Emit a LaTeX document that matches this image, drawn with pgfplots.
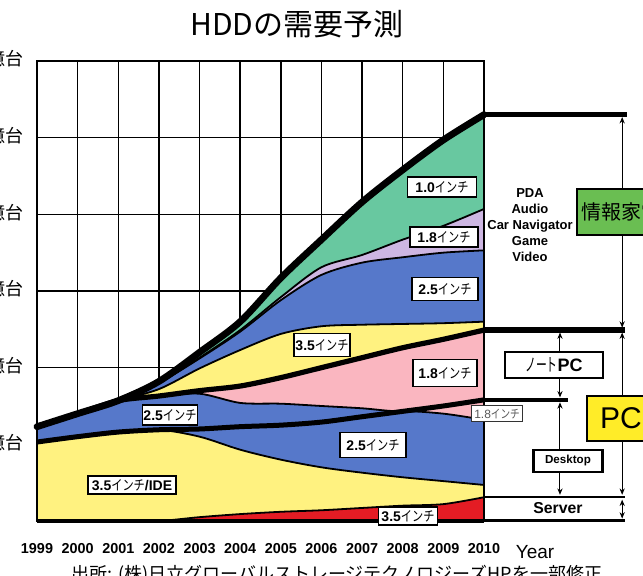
\documentclass[border=0pt]{standalone}
\usepackage{fontspec}
\setmainfont{Liberation Sans}
\newfontfamily\jp{Noto Sans CJK JP}
\usepackage{graphicx}
\usepackage{pgfplots}
\pgfplotsset{compat=1.18}
\usepackage{pgfplotstable}
\usetikzlibrary{arrows.meta}

\definecolor{cGreen}{RGB}{104,200,160}
\definecolor{cPurple}{RGB}{205,182,226}
\definecolor{cBlue}{RGB}{86,120,202}
\definecolor{cPink}{RGB}{250,182,192}
\definecolor{cYellow}{RGB}{255,242,128}
\definecolor{cRed}{RGB}{228,28,36}
\definecolor{boxGreen}{RGB}{106,190,82}
\definecolor{boxYellow}{RGB}{255,236,40}

\newcommand\inch{{\jp\scalebox{0.8}[1]{インチ}}}
\newcommand\lbl[1]{{\bfseries #1}\inch}

% Cumulative upper boundary of each band (100 million units)
% R: server 3.5 | Y: desktop 3.5 | DB: desktop 2.5 | A: desktop 1.8 (desktop total)
% NB: notebook 2.5 | P: notebook 1.8 (PC total)
% YA: appliance 3.5 | BA: appliance 2.5 | PA: appliance 1.8 | T: appliance 1.0 (total)
\pgfplotstableread{
year R    Y    DB   A    NB   P    YA   BA   PA   T
1999 0.00 1.03 1.03 1.03 1.23 1.23 1.23 1.23 1.23 1.23
2000 0.00 1.10 1.10 1.10 1.40 1.40 1.40 1.40 1.40 1.40
2001 0.00 1.16 1.16 1.16 1.57 1.57 1.57 1.57 1.57 1.57
2002 0.00 1.19 1.19 1.19 1.63 1.63 1.72 1.80 1.80 1.82
2003 0.05 1.10 1.20 1.20 1.66 1.70 1.99 2.12 2.13 2.20
2004 0.09 0.93 1.23 1.23 1.54 1.76 2.23 2.47 2.49 2.60
2005 0.12 0.80 1.25 1.25 1.53 1.87 2.44 2.88 2.92 3.17
2006 0.14 0.70 1.29 1.29 1.50 2.00 2.54 3.21 3.31 3.67
2007 0.17 0.63 1.36 1.36 1.47 2.13 2.56 3.37 3.47 4.16
2008 0.20 0.57 1.43 1.43 1.43 2.26 2.57 3.44 3.67 4.58
2009 0.22 0.52 1.40 1.50 1.50 2.37 2.58 3.50 3.85 4.97
2010 0.31 0.47 1.32 1.58 1.58 2.49 2.60 3.53 4.07 5.30
}\hdd

\tikzset{
  lab/.style={draw=black, line width=0.75pt, fill=white, inner sep=0pt,
              font=\fontsize{7}{7}\selectfont},
  dbl/.style={{Stealth[length=3.2pt,width=2.6pt]}-{Stealth[length=3.2pt,width=2.6pt]},
              line width=0.5pt, shorten <=1.2pt, shorten >=1.2pt},
}

\begin{document}
\begin{tikzpicture}
\useasboundingbox (-18.5pt,-27.5pt) rectangle (303pt,260.5pt);
\clip (-18.5pt,-27.5pt) rectangle (303pt,260.5pt);

\begin{axis}[
  scale only axis, width=223.5pt, height=230pt,
  xmin=1999, xmax=2010, ymin=0, ymax=6,
  xtick={1999,2000,2001,2002,2003,2004,2005,2006,2007,2008,2009,2010},
  xticklabels={1999,2000,2001,2002,2003,2004,2005,2006,2007,2008,2009,2010},
  ytick={1,2,3,4,5,6},
  yticklabels={1億台,2億台,3億台,4億台,5億台,6億台},
  major tick length=0pt,
  grid=major,
  major grid style={black, line width=0.75pt},
  axis line style={black, line width=0.9pt},
  xticklabel style={font=\bfseries\fontsize{7.2}{8}\selectfont, anchor=north, inner sep=0pt, yshift=-11pt},
  yticklabel style={font=\jp\fontsize{9}{9}\selectfont, anchor=east, inner sep=0pt, xshift=-6.5pt, yshift=1pt},
  clip=false,
  every axis plot/.append style={smooth},
]
% bands, painted from the top boundary downwards
\addplot[draw=none, fill=cGreen]  table[x=year,y=T]  {\hdd} \closedcycle;
\addplot[draw=none, fill=cPurple] table[x=year,y=PA] {\hdd} \closedcycle;
\addplot[draw=none, fill=cBlue]   table[x=year,y=BA] {\hdd} \closedcycle;
\addplot[draw=none, fill=cYellow] table[x=year,y=YA] {\hdd} \closedcycle;
\addplot[draw=none, fill=cPink]   table[x=year,y=P]  {\hdd} \closedcycle;
\addplot[draw=none, fill=cBlue]   table[x=year,y=NB] {\hdd} \closedcycle;
\addplot[draw=none, fill=cPink]   table[x=year,y=A]  {\hdd} \closedcycle;
\addplot[draw=none, fill=cBlue]   table[x=year,y=DB] {\hdd} \closedcycle;
\addplot[draw=none, fill=cYellow] table[x=year,y=Y]  {\hdd} \closedcycle;
\addplot[draw=none, fill=cRed]    table[x=year,y=R]  {\hdd} \closedcycle;

% band outlines
\addplot[black, line width=0.9pt] table[x=year,y=R]  {\hdd};
\addplot[black, line width=0.9pt] table[x=year,y=Y]  {\hdd};
\addplot[black, line width=0.9pt] table[x=year,y=DB] {\hdd};
\addplot[black, line width=0.9pt] table[x=year,y=NB] {\hdd};
\addplot[black, line width=0.9pt] table[x=year,y=YA] {\hdd};
\addplot[black, line width=0.9pt] table[x=year,y=BA] {\hdd};
\addplot[black, line width=0.9pt] table[x=year,y=PA] {\hdd};
\addplot[black, line width=2.5pt] table[x=year,y=A]  {\hdd};
\addplot[black, line width=2.6pt] table[x=year,y=P]  {\hdd};
\addplot[black, line width=3.4pt, line cap=round] table[x=year,y=T] {\hdd};

% frame edges over the fills
\draw[line width=1.6pt] (axis cs:1999,0) -- (axis cs:2010,0);
\draw[line width=1.3pt] (axis cs:1999,0) -- (axis cs:1999,1.23);
\draw[line width=1.1pt] (axis cs:2010,0) -- (axis cs:2010,5.30);

% segment brackets to the right
\draw[line width=2.6pt] (axis cs:2010,5.30) -- (axis cs:2013.52,5.30);
\draw[line width=2.6pt] (axis cs:2010,2.49) -- (axis cs:2013.47,2.49);
\draw[line width=2.0pt] (axis cs:2010,1.58) -- (axis cs:2012.07,1.58);
\draw[line width=1.0pt] (axis cs:2010,0.31) -- (axis cs:2013.47,0.31);
\draw[line width=1.5pt] (axis cs:2010,0) -- (axis cs:2013.47,0);

\draw[dbl] (axis cs:2013.40,5.30) -- (axis cs:2013.40,2.49);
\draw[dbl] (axis cs:2013.40,2.49) -- (axis cs:2013.40,0.31);
\draw[dbl] (axis cs:2013.40,0.31) -- (axis cs:2013.40,0);
\draw[dbl] (axis cs:2011.87,2.49) -- (axis cs:2011.87,1.58);
\draw[dbl] (axis cs:2011.87,1.58) -- (axis cs:2011.87,0.31);
\end{axis}

% labels, in a coordinate frame of half-point units
\begin{scope}[x=0.5pt, y=-0.5pt, shift={(-18.5pt,260.5pt)}]
\node[font=\jp\fontsize{15}{15}\selectfont] at (297,24) {HDDの需要予測};
\node[font=\fontsize{9.5}{10}\selectfont] at (535,552) {Year};
\node[font=\jp\fontsize{9}{9}\selectfont, inner sep=0pt] at (337,575)
  {出所: (株)日立グローバルストレージテクノロジーズHPを一部修正};

\node[lab, minimum width=34.5pt, minimum height=10pt]  at (442,187) {\lbl{1.0}};
\node[lab, minimum width=34pt,   minimum height=10pt]  at (444,237) {\lbl{1.8}};
\node[lab, minimum width=33pt,   minimum height=11.5pt] at (445,289) {\lbl{2.5}};
\node[lab, minimum width=28pt,   minimum height=11.5pt] at (322,345) {\lbl{3.5}};
\node[lab, minimum width=32pt,   minimum height=13.5pt] at (445,373) {\lbl{1.8}};
\node[lab, minimum width=33pt,   minimum height=12.5pt] at (373,445) {\lbl{2.5}};
\node[lab, minimum width=27.5pt, minimum height=10pt]  at (170,415) {\lbl{2.5}};
\node[lab, minimum width=44pt,   minimum height=9pt]   at (132,485) {{\bfseries 3.5}\inch{\bfseries /IDE}};
\node[lab, minimum width=29.5pt, minimum height=9pt]   at (408,516) {\lbl{3.5}};
\node[draw=black!80, line width=0.5pt, fill=white, inner sep=0pt,
      minimum width=25.5pt, minimum height=8pt, text=black!65,
      font=\fontsize{6}{6}\selectfont] at (497,414) {1.8\inch};

\node[font=\bfseries\fontsize{6.5}{8}\selectfont, align=center] at (530,225)
  {PDA\\Audio\\Car Navigator\\Game\\Video};
\node[draw=black, line width=0.8pt, fill=boxGreen, inner sep=0pt,
      minimum width=44pt, minimum height=23pt,
      font=\jp\fontsize{10}{10}\selectfont] at (621,212) {情報家電};
\node[draw=black, line width=1.2pt, fill=white, inner sep=0pt,
      minimum width=49pt, minimum height=13pt,
      font=\fontsize{9}{9}\selectfont] at (554,365)
  {{\jp\scalebox{0.6}[1]{ノート}}{\bfseries PC}};
\node[draw=black, line width=0.8pt, fill=boxYellow, inner sep=0pt,
      minimum width=34pt, minimum height=22.5pt,
      font=\fontsize{15}{15}\selectfont] at (621,418.5) {PC};
\node[draw=black, line width=1.2pt, fill=white, inner sep=0pt,
      minimum width=34.5pt, minimum height=11pt,
      font=\bfseries\fontsize{5.8}{6}\selectfont] at (568,461) {Desktop};
\node[font=\bfseries\fontsize{7.9}{8}\selectfont] at (558,508) {Server};
\end{scope}
\end{tikzpicture}
\end{document}
